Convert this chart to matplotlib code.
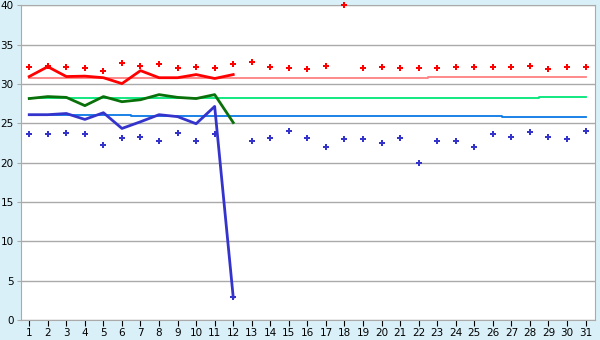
import matplotlib
matplotlib.use('Agg')
import matplotlib.pyplot as plt

days = list(range(1, 32))

# scattered daily readings
red_pts = [32.2, 32.3, 32.2, 32.0, 31.7, 32.7, 32.3, 32.5, 32.0, 32.2, 32.0, 32.6,
           32.85, 32.1, 32.0, 31.85, 32.35, 40.0, 32.0, 32.1, 32.0, 32.0, 32.0, 32.2,
           32.1, 32.1, 32.1, 32.35, 31.85, 32.1, 32.1]
blue_pts = [23.6, 23.6, 23.8, 23.7, 22.2, 23.1, 23.2, 22.8, 23.8, 22.7, 23.6, 2.9,
            22.8, 23.1, 24.0, 23.1, 22.05, 22.95, 22.95, 22.55, 23.1, 20.0, 22.8, 22.8,
            22.05, 23.6, 23.2, 23.85, 23.3, 22.95, 24.0]

# lines for days 1-12
line_days = days[:12]
red_line = [30.95, 32.2, 30.95, 31.0, 30.8, 30.05, 31.7, 30.8, 30.8, 31.2, 30.7, 31.2]
green_line = [28.15, 28.4, 28.3, 27.25, 28.4, 27.75, 28.0, 28.65, 28.3, 28.15, 28.65, 25.1]
blue_line = [26.1, 26.1, 26.25, 25.5, 26.35, 24.35, 25.2, 26.1, 25.85, 24.95, 27.15, 2.9]

# running averages (step lines)
red_avg = [30.8] * 22 + [30.95] * 9
green_avg = [28.28] * 28 + [28.4] * 3
blue_avg = [26.1] * 6 + [25.98] * 20 + [25.86] * 5

bg = '#daf0f8'
fig = plt.figure(figsize=(6, 3.4), dpi=100, facecolor=bg)
ax = fig.add_axes([0.0345, 0.0588, 0.9575, 0.9255])
ax.set_facecolor('white')

ax.plot(days, red_avg, color='#ff8080', lw=1.3, drawstyle='steps-mid')
ax.plot(days, green_avg, color='#00e676', lw=1.3, drawstyle='steps-mid')
ax.plot(days, blue_avg, color='#0a78e6', lw=1.3, drawstyle='steps-mid')

ax.plot(line_days, red_line, color='#ff0000', lw=2)
ax.plot(line_days, green_line, color='#0a700a', lw=2)
ax.plot(line_days, blue_line, color='#3434cc', lw=2)

ax.plot(days, red_pts, 'P', color='#ff0000', ms=5, mew=0, ls='none', clip_on=False, zorder=4)
ax.plot(days, blue_pts, 'P', color='#3434cc', ms=5, mew=0, ls='none', clip_on=False, zorder=4)

ax.set_xlim(0.54, 31.52)
ax.set_ylim(0, 40)
ax.set_xticks(days)
ax.set_yticks(range(0, 41, 5))
ax.grid(axis='y', color='#aaaaaa', lw=1)
ax.set_axisbelow(True)
for s in ax.spines.values():
    s.set_color('#aaaaaa')
ax.tick_params(axis='x', length=4, color='black', labelsize=7.5, pad=2)
ax.tick_params(axis='y', length=3, color='#aaaaaa', labelsize=7.5, pad=2)

fig.savefig('out.png', dpi=100, facecolor=bg)
